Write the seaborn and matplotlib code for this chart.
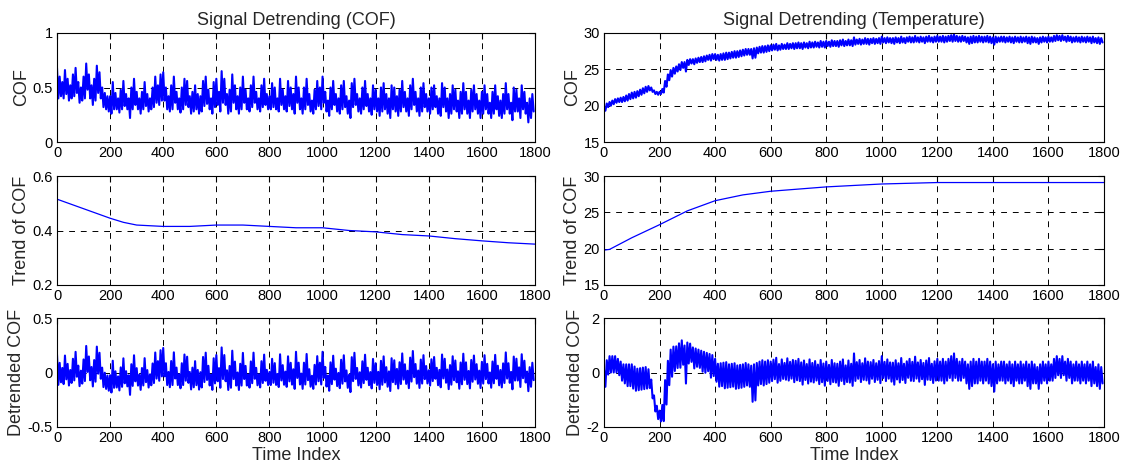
import numpy as np
import pandas as pd
import matplotlib
matplotlib.use("Agg")
import matplotlib.pyplot as plt
import seaborn as sns

# ---------------- data ----------------
# COF signal: upper and lower excursions every 10 samples (t = 0, 10, ..., 1790)
cof_hi = [
    0.68, 0.60, 0.55, 0.66, 0.58, 0.52, 0.62, 0.68, 0.55, 0.50, 0.60, 0.72, 0.62, 0.52, 0.58, 0.70, 0.64, 0.50, 0.45, 0.42,
    0.42, 0.55, 0.45, 0.40, 0.48, 0.56, 0.44, 0.40, 0.50, 0.58, 0.46, 0.40, 0.46, 0.55, 0.44, 0.40, 0.50, 0.60, 0.52, 0.62,
    0.64, 0.50, 0.42, 0.52, 0.60, 0.46, 0.40, 0.50, 0.58, 0.56, 0.42, 0.46, 0.52, 0.44, 0.42, 0.56, 0.60, 0.48, 0.40, 0.55,
    0.58, 0.46, 0.65, 0.58, 0.44, 0.48, 0.62, 0.52, 0.42, 0.50, 0.60, 0.48, 0.40, 0.52, 0.60, 0.46, 0.40, 0.52, 0.58, 0.44,
    0.42, 0.54, 0.50, 0.40, 0.58, 0.48, 0.42, 0.56, 0.50, 0.44, 0.60, 0.50, 0.40, 0.50, 0.58, 0.44, 0.38, 0.48, 0.56, 0.50,
    0.60, 0.46, 0.38, 0.50, 0.56, 0.44, 0.40, 0.52, 0.56, 0.42, 0.38, 0.54, 0.58, 0.44, 0.40, 0.50, 0.56, 0.44, 0.40, 0.52,
    0.48, 0.40, 0.50, 0.54, 0.44, 0.40, 0.52, 0.50, 0.42, 0.48, 0.56, 0.46, 0.40, 0.52, 0.58, 0.46, 0.40, 0.50, 0.54, 0.44,
    0.40, 0.50, 0.52, 0.42, 0.40, 0.54, 0.50, 0.40, 0.44, 0.52, 0.48, 0.38, 0.46, 0.54, 0.46, 0.38, 0.48, 0.52, 0.44, 0.38,
    0.46, 0.52, 0.44, 0.36, 0.46, 0.52, 0.42, 0.38, 0.44, 0.54, 0.44, 0.36, 0.50, 0.48, 0.40, 0.52, 0.46, 0.36, 0.40, 0.44,
]
cof_lo = [
    0.40, 0.42, 0.40, 0.44, 0.38, 0.40, 0.42, 0.45, 0.36, 0.38, 0.40, 0.48, 0.40, 0.34, 0.38, 0.45, 0.40, 0.32, 0.30, 0.28,
    0.26, 0.30, 0.30, 0.27, 0.30, 0.33, 0.30, 0.22, 0.30, 0.34, 0.30, 0.26, 0.30, 0.33, 0.28, 0.30, 0.32, 0.36, 0.34, 0.38,
    0.38, 0.30, 0.28, 0.30, 0.36, 0.30, 0.27, 0.30, 0.34, 0.32, 0.26, 0.28, 0.30, 0.26, 0.28, 0.33, 0.35, 0.30, 0.26, 0.32,
    0.34, 0.28, 0.36, 0.34, 0.26, 0.28, 0.36, 0.30, 0.26, 0.30, 0.36, 0.30, 0.28, 0.32, 0.36, 0.30, 0.28, 0.32, 0.34, 0.30,
    0.30, 0.32, 0.30, 0.28, 0.34, 0.30, 0.28, 0.33, 0.30, 0.26, 0.36, 0.30, 0.26, 0.30, 0.34, 0.28, 0.26, 0.30, 0.33, 0.30,
    0.36, 0.28, 0.24, 0.30, 0.34, 0.28, 0.26, 0.30, 0.32, 0.26, 0.22, 0.32, 0.34, 0.28, 0.26, 0.30, 0.33, 0.28, 0.25, 0.30,
    0.28, 0.24, 0.28, 0.30, 0.26, 0.22, 0.30, 0.28, 0.24, 0.28, 0.32, 0.28, 0.24, 0.30, 0.34, 0.28, 0.24, 0.28, 0.32, 0.28,
    0.26, 0.30, 0.32, 0.26, 0.24, 0.32, 0.28, 0.22, 0.26, 0.30, 0.28, 0.22, 0.26, 0.30, 0.26, 0.22, 0.28, 0.30, 0.26, 0.22,
    0.26, 0.30, 0.26, 0.22, 0.26, 0.30, 0.24, 0.22, 0.26, 0.30, 0.26, 0.20, 0.28, 0.28, 0.22, 0.30, 0.26, 0.18, 0.22, 0.28,
]
cof_trend_t = [0, 100, 200, 250, 300, 400, 500, 600, 700, 800, 900, 1000, 1100, 1200, 1300, 1400, 1500, 1600, 1700, 1800]
cof_trend_v = [0.515, 0.48, 0.445, 0.43, 0.42, 0.415, 0.415, 0.42, 0.42, 0.415, 0.41, 0.41, 0.40, 0.395, 0.385, 0.38, 0.37, 0.362, 0.355, 0.35]

# Temperature signal: upper and lower excursions every 10 samples
tmp_hi = [
    19.9, 20.3, 20.5, 20.7, 20.9, 21.0, 21.1, 21.2, 21.4, 21.6, 21.8, 21.9, 22.0, 22.2, 22.4, 22.6, 22.7, 22.5, 22.1, 21.9,
    21.9, 22.3, 23.4, 24.3, 24.9, 25.2, 25.4, 25.7, 26.0, 26.0, 26.3, 26.4, 26.4, 26.5, 26.6, 26.7, 26.8, 26.9, 27.0, 27.1,
    27.1, 27.0, 27.1, 27.2, 27.3, 27.3, 27.4, 27.5, 27.5, 27.6, 27.7, 27.8, 27.8, 27.8, 27.9, 28.0, 28.1, 28.2, 28.2, 28.3,
    28.3, 28.4, 28.5, 28.3, 28.5, 28.4, 28.6, 28.5, 28.6, 28.6, 28.7, 28.6, 28.7, 28.6, 28.8, 28.7, 28.8, 28.7, 28.9, 28.8,
    28.9, 28.8, 29.0, 28.9, 28.9, 29.0, 29.1, 28.9, 29.1, 29.0, 29.4, 29.1, 29.2, 29.1, 29.3, 29.2, 29.2, 29.3, 29.2, 29.3,
    29.5, 29.3, 29.4, 29.3, 29.3, 29.4, 29.3, 29.5, 29.3, 29.4, 29.5, 29.4, 29.6, 29.4, 29.5, 29.4, 29.5, 29.6, 29.4, 29.5,
    29.6, 29.5, 29.6, 29.5, 29.6, 29.7, 29.8, 29.6, 29.5, 29.6, 29.5, 29.4, 29.5, 29.6, 29.5, 29.6, 29.5, 29.5, 29.6, 29.5,
    29.4, 29.5, 29.4, 29.5, 29.5, 29.4, 29.5, 29.4, 29.5, 29.4, 29.5, 29.4, 29.5, 29.4, 29.5, 29.4, 29.3, 29.4, 29.5, 29.4,
    29.5, 29.4, 29.6, 29.7, 29.6, 29.7, 29.5, 29.6, 29.5, 29.4, 29.5, 29.4, 29.5, 29.4, 29.5, 29.4, 29.5, 29.3, 29.4, 29.3,
]
tmp_lo = [
    19.3, 19.8, 20.0, 20.2, 20.4, 20.5, 20.5, 20.6, 20.7, 20.9, 21.0, 21.1, 21.3, 21.5, 21.7, 21.9, 22.1, 21.9, 21.6, 21.5,
    21.6, 21.8, 22.6, 23.5, 24.0, 24.4, 24.7, 24.9, 25.2, 24.7, 25.6, 25.8, 25.7, 25.9, 26.0, 26.0, 26.1, 26.3, 26.2, 26.4,
    26.3, 26.2, 26.3, 26.3, 26.4, 26.5, 26.6, 26.6, 26.7, 26.8, 26.9, 27.0, 27.0, 26.5, 26.6, 27.2, 27.3, 27.3, 27.4, 27.5,
    27.6, 27.7, 27.6, 27.7, 27.8, 27.8, 27.8, 27.9, 27.8, 27.9, 27.9, 27.8, 28.0, 27.9, 28.0, 28.0, 28.1, 28.0, 28.1, 28.0,
    28.2, 28.1, 28.2, 28.2, 28.1, 28.3, 28.2, 28.3, 28.3, 28.2, 28.4, 28.5, 28.4, 28.5, 28.5, 28.4, 28.6, 28.5, 28.6, 28.5,
    28.7, 28.6, 28.7, 28.6, 28.5, 28.7, 28.6, 28.7, 28.6, 28.8, 28.7, 28.7, 28.8, 28.7, 28.8, 28.6, 28.8, 28.8, 28.7, 28.8,
    28.8, 28.8, 28.7, 28.8, 28.9, 28.8, 28.9, 28.8, 28.8, 28.9, 28.7, 28.5, 28.6, 28.7, 28.7, 28.8, 28.7, 28.8, 28.7, 28.6,
    28.4, 28.7, 28.8, 28.8, 28.7, 28.8, 28.7, 28.6, 28.8, 28.7, 28.7, 28.8, 28.6, 28.5, 28.7, 28.7, 28.5, 28.7, 28.8, 28.7,
    28.8, 28.8, 28.9, 29.0, 28.9, 29.0, 28.8, 28.9, 28.7, 28.8, 28.8, 28.7, 28.8, 28.7, 28.8, 28.6, 28.7, 28.6, 28.5, 28.7,
]
tmp_trend_t = [0, 20, 100, 200, 300, 400, 500, 600, 700, 800, 900, 1000, 1100, 1200, 1800]
tmp_trend_v = [19.8, 19.9, 21.5, 23.3, 25.2, 26.6, 27.4, 27.9, 28.2, 28.5, 28.7, 28.9, 29.0, 29.1, 29.1]

titles = ["Signal Detrending (COF)", "Signal Detrending (Temperature)"]
ylabels = ["COF", "Trend of COF", "Detrended COF"]
xlabel = "Time Index"
xticks = [0, 200, 400, 600, 800, 1000, 1200, 1400, 1600, 1800]
yticks = {
    (0, 0): [0, 0.5, 1], (1, 0): [0.2, 0.4, 0.6], (2, 0): [-0.5, 0, 0.5],
    (0, 1): [15, 20, 25, 30], (1, 1): [15, 20, 25, 30], (2, 1): [-2, 0, 2],
}
ytick_labels = {
    (0, 0): ["0", "0.5", "1"], (1, 0): ["0.2", "0.4", "0.6"], (2, 0): ["-0.5", "0", "0.5"],
    (0, 1): ["15", "20", "25", "30"], (1, 1): ["15", "20", "25", "30"], (2, 1): ["-2", "0", "2"],
}

# ---------------- build the series ----------------
def zigzag(hi, lo, step=10):
    t = np.arange(len(hi)) * step
    x = np.empty(2 * len(hi))
    y = np.empty(2 * len(hi))
    x[0::2], x[1::2] = t, t + step / 2
    y[0::2], y[1::2] = hi, lo
    return x, y

cof_x, cof_y = zigzag(cof_hi, cof_lo)
tmp_x, tmp_y = zigzag(tmp_hi, tmp_lo)
cof_det = cof_y - np.interp(cof_x, cof_trend_t, cof_trend_v)
tmp_det = tmp_y - np.interp(tmp_x, tmp_trend_t, tmp_trend_v)

series = {
    (0, 0): (cof_x, cof_y), (1, 0): (np.array(cof_trend_t), np.array(cof_trend_v)), (2, 0): (cof_x, cof_det),
    (0, 1): (tmp_x, tmp_y), (1, 1): (np.array(tmp_trend_t), np.array(tmp_trend_v)), (2, 1): (tmp_x, tmp_det),
}

# ---------------- figure ----------------
sns.set_style("white")
plt.rcParams["font.family"] = ["Liberation Sans", "DejaVu Sans"]

fig = plt.figure(figsize=(11.3, 4.75), dpi=100)
W, H = 1130, 475
cols = [(57, 535), (604, 1104)]
rows = [(33, 142), (176, 285), (318, 427)]

for c, (x0, x1) in enumerate(cols):
    for r, (y0, y1) in enumerate(rows):
        ax = fig.add_axes([x0 / W, 1 - y1 / H, (x1 - x0) / W, (y1 - y0) / H])
        xs, ys = series[(r, c)]
        df = pd.DataFrame({"t": xs, "v": ys})
        sns.lineplot(data=df, x="t", y="v", ax=ax, color=(0, 0, 1),
                     linewidth=1.5 if r != 1 else 0.9, estimator=None, sort=False)
        yt = yticks[(r, c)]
        ax.set_xlim(0, 1800)
        ax.set_ylim(yt[0], yt[-1])
        ax.set_xticks(xticks)
        ax.set_xticklabels([str(v) for v in xticks])
        ax.set_yticks(yt)
        ax.set_yticklabels(ytick_labels[(r, c)])
        ax.grid(True, color="black", linestyle=(0, (6, 6)), linewidth=0.7)
        ax.tick_params(direction="in", length=4, top=True, right=True,
                       labelsize=10.5, pad=3, colors="black")
        for s in ax.spines.values():
            s.set_color("black")
            s.set_linewidth(0.8)
            s.set_visible(True)
        ax.set_ylabel(ylabels[r], fontsize=13, labelpad=2)
        if r == 2:
            ax.set_xlabel(xlabel, fontsize=13, labelpad=1)
        else:
            ax.set_xlabel("")
        if r == 0:
            ax.set_title(titles[c], fontsize=13, pad=6)

fig.savefig("out.png", dpi=100, facecolor="white")
